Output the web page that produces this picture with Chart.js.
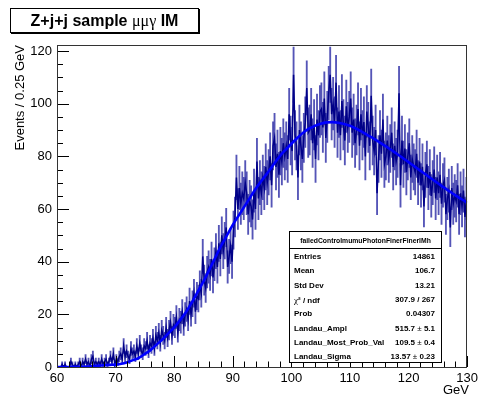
<!DOCTYPE html>
<html>
<head>
<meta charset="UTF-8">
<title>Z+j+j sample mumugamma IM</title>
<script src="https://cdn.jsdelivr.net/npm/chart.js"></script>
<style>
    body { margin: 0; background: #fff; font-family: "Liberation Sans", Arial, sans-serif; }
    .wrap { position: relative; width: 482px; height: 399px; }
    canvas { position: absolute; left: 0; top: 0; }
    .title {
        position: absolute; left: 10px; top: 8px; width: 187px; height: 23px;
        border: 1px solid #000; box-shadow: 1px 1px 0 #000; background: #fff;
        font: bold 16px "Liberation Sans", Arial, sans-serif; line-height: 23px;
        text-align: center; white-space: nowrap;
    }
    .title .g { font-family: "Liberation Serif", "DejaVu Serif", serif; font-weight: normal; }
    .ytitle {
        position: absolute; left: 13px; top: 155px; font-size: 13px; color: #000;
        transform-origin: 0 0; transform: rotate(-90deg);
        white-space: nowrap; width: 110px; text-align: right; line-height: 14px;
    }
    .xtitle { position: absolute; right: 13px; top: 382px; font-size: 13px; }
    .stats {
        position: absolute; left: 289px; top: 231px; width: 151px; height: 130px;
        border: 1px solid #000; background: #fff; font-weight: bold; font-size: 8px;
    }
    .stats .hd { position: absolute; left: 0; right: 0; top: 5px; text-align: center; font-size: 6.8px; }
    .stats .sep { position: absolute; left: 0; right: 0; top: 16px; border-top: 1px solid #000; }
    .stats .row { position: absolute; left: 4px; right: 6px; height: 12px; line-height: 12px; }
    .stats .row .l { position: absolute; left: 0; }
    .stats .row .v { position: absolute; right: 0; }
    .stats .g { font-family: "Liberation Serif", serif; font-weight: normal; font-size: 9px; }
    .stats .pm { font-weight: normal; }
</style>
</head>
<body>
<div class="wrap">
    <canvas id="c" width="482" height="399"></canvas>
    <div class="title">Z+j+j sample <span class="g">μμγ</span> IM</div>
    <div class="ytitle">Events / 0.25 GeV</div>
    <div class="xtitle">GeV</div>
    <div class="stats" id="stats"></div>
</div>

<script>
// histogram: 280 bins of 0.25 GeV from 60 to 130
const binStart = 60;
const binWidth = 0.25;
const counts = [
    0,0,0,1, 0,1,0,0, 0,2,1,0, 1,0,1,2, 0,2,1,3, 1,2,0,3, 4,1,2,1, 2,1,3,1, 2,3,1,2, 4,2,5,1,
    3,2,4,5, 3,8,4,6, 4,3,7,5, 6,4,8,5, 9,6,5,8, 7,10,6,9, 8,11,7,12, 10,13,9,14, 12,10,15,11, 14,17,12,16,
    15,19,13,18, 17,21,16,20, 22,18,25,20, 24,28,21,27, 26,31,28,42, 33,30,36,38, 35,41,34,39, 44,38,47,41, 50,44,48,53, 38,42,46,40,
    52,57,72,60, 68,62,66,64, 70,66,58,63, 61,56,67,60, 78,64,70,66, 72,68,76,70, 74,80,69,84, 87,76,81,73, 82,78,85,80, 84,79,96,86,
    82,111,88,84, 72,90,84,79, 87,93,106,89, 90,96,85,92, 79,94,88,97, 98,91,102,87, 95,104,111,96, 100,93,108,89, 97,88,101,92, 86,99,91,95,
    102,89,94,85, 90,98,84,96, 88,93,80,97, 91,84,103,86, 82,90,66,79, 88,81,94,77, 80,86,79,83, 89,76,84,78, 81,104,69,86, 77,83,74,80,
    85,72,79,76, 74,81,70,78, 69,76,61,73, 77,68,74,65, 70,75,64,72, 66,73,62,69, 71,58,64,67, 53,68,62,65, 63,69,58,66, 61,67,57,64
];

// Landau fit curve, one value per GeV from 60 to 130
const fitStart = 60;
const fitValues = [
    0, 0, 0, 0.05, 0.1, 0.2, 0.35, 0.5, 0.65, 0.8,
    0.9, 1.2, 1.8, 2.6, 3.5, 5.0, 6.5, 8.5, 10.5, 12.8,
    15, 17.8, 20.8, 24.5, 28.5, 32.5, 37, 41.5, 46, 50,
    54, 57.5, 61, 64.5, 68, 71, 74, 77, 80, 82.5,
    84.8, 87, 89, 90.5, 91.6, 92.4, 92.9, 93, 92.8, 92.3,
    91.6, 90.6, 89.4, 88.1, 86.8, 85.4, 84, 82.5, 81, 79.4,
    77.8, 76.2, 74.6, 73, 71.4, 69.8, 68.2, 66.7, 65.2, 63.8, 62.4
];

const xTicks = [60, 70, 80, 90, 100, 110, 120, 130];
const yTicks = [0, 20, 40, 60, 80, 100, 120];

const statsName = 'failedControlmumuPhotonFinerFinerIMh';
const statsRows = [
    ['Entries', '14861'],
    ['Mean', '106.7'],
    ['Std Dev', '13.21'],
    ['<span class="g">χ</span>² / ndf', '307.9 / 267'],
    ['Prob', '0.04307'],
    ['Landau_Ampl', '515.7 <span class="pm">±</span> 5.1'],
    ['Landau_Most_Prob_Val', '109.5 <span class="pm">±</span> 0.4'],
    ['Landau_Sigma', '13.57 <span class="pm">±</span> 0.23']
];

// stats box
const st = document.getElementById('stats');
let html = '<div class="hd">' + statsName + '</div><div class="sep"></div>';
statsRows.forEach((r, i) => {
    html += '<div class="row" style="top:' + (19 + i * 14.3) + 'px"><span class="l">' + r[0] +
        '</span><span class="v">' + r[1] + '</span></div>';
});
st.innerHTML = html;

const points = counts.map((n, i) => ({ x: binStart + binWidth * (i + 0.5), y: n }));
const errors = counts.map((n, i) => ({
    x: binStart + binWidth * (i + 0.5),
    y: [n - Math.sqrt(n), n + Math.sqrt(n)]
}));
const fitPts = fitValues.map((v, i) => ({ x: fitStart + i, y: v }));

// ROOT style frame with inward ticks
const frameTicks = {
    id: 'frameTicks',
    afterDatasetsDraw(chart) {
        const ctx = chart.ctx, a = chart.chartArea;
        const xs = chart.scales.x, ys = chart.scales.y;
        ctx.save();
        ctx.strokeStyle = '#000';
        ctx.lineWidth = 1;
        ctx.beginPath();
        for (let v = 60; v <= 130; v += 2) {
            const px = Math.round(xs.getPixelForValue(v)) + 0.5;
            const len = v % 10 === 0 ? 11 : 5.5;
            ctx.moveTo(px, a.bottom);
            ctx.lineTo(px, a.bottom - len);
        }
        for (let v = 0; v <= 120; v += 5) {
            const py = Math.round(ys.getPixelForValue(v)) + 0.5;
            const len = v % 20 === 0 ? 12 : 6;
            ctx.moveTo(a.left, py);
            ctx.lineTo(a.left + len, py);
        }
        ctx.stroke();
        ctx.strokeStyle = '#333';
        ctx.strokeRect(Math.round(a.left) + 0.5, Math.round(a.top) + 0.5,
            Math.round(a.right - a.left) - 1, Math.round(a.bottom - a.top));
        ctx.restore();
    }
};

new Chart(document.getElementById('c'), {
    data: {
        datasets: [
            {
                type: 'bar',
                data: errors,
                backgroundColor: 'rgba(55, 55, 170, 0.85)',
                borderWidth: 0,
                barThickness: 1.2,
                grouped: false,
                order: 3
            },
            {
                type: 'line',
                data: points,
                borderColor: '#000088',
                borderWidth: 1.5,
                pointRadius: 0,
                tension: 0,
                order: 2
            },
            {
                type: 'line',
                data: fitPts,
                borderColor: '#0000ff',
                borderWidth: 2.6,
                pointRadius: 0,
                cubicInterpolationMode: 'monotone',
                order: 1
            }
        ]
    },
    options: {
        responsive: false,
        animation: false,
        layout: { autoPadding: false, padding: { left: 0, right: 11, top: 45, bottom: 0 } },
        plugins: { legend: { display: false }, tooltip: { enabled: false } },
        scales: {
            x: {
                type: 'linear',
                min: 60, max: 130,
                offset: false,
                grid: { display: false, drawTicks: false },
                border: { display: false },
                afterFit: s => { s.height = 32; },
                afterBuildTicks: s => { s.ticks = xTicks.map(v => ({ value: v })); },
                ticks: {
                    padding: 4,
                    color: '#000',
                    font: { family: '"Liberation Sans", Arial, sans-serif', size: 13 },
                    maxRotation: 0,
                    autoSkip: false
                }
            },
            y: {
                type: 'linear',
                min: 0, max: 122.3,
                grid: { display: false, drawTicks: false },
                border: { display: false },
                afterFit: s => { s.width = 57; },
                afterBuildTicks: s => { s.ticks = yTicks.map(v => ({ value: v })); },
                ticks: {
                    padding: 5,
                    color: '#000',
                    font: { family: '"Liberation Sans", Arial, sans-serif', size: 13 }
                }
            }
        }
    },
    plugins: [frameTicks]
});
</script>
</body>
</html>
